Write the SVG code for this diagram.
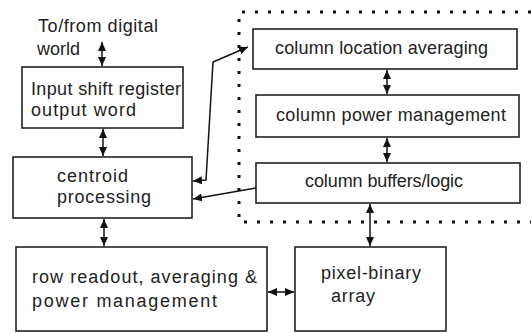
<svg xmlns="http://www.w3.org/2000/svg" width="531" height="333" viewBox="0 0 531 333">
  <style>
    .box { fill: #fff; stroke: #222; stroke-width: 1.6; }
    .lbl { font-family: "Liberation Sans", Arial, sans-serif; font-size: 18px; fill: #222; }
    .wire { fill: none; stroke: #111; stroke-width: 1.5; }
    .dual { marker-start: url(#head); marker-end: url(#head); }
    .single { marker-end: url(#head); }
    .zone { fill: none; stroke: #111; stroke-width: 3; stroke-dasharray: 3 10; }
  </style>
  <defs>
    <marker id="head" markerUnits="userSpaceOnUse" markerWidth="9" markerHeight="8" refX="9" refY="4" orient="auto-start-reverse">
      <path d="M0,0 L9,4 L0,8 z" fill="#111"/>
    </marker>
  </defs>

  <rect width="531" height="333" fill="#fff"/>

  <!-- column-circuit region -->
  <path class="zone" d="M531,12 H239 V222 H531"/>

  <g id="digital-world">
    <text class="lbl" x="38" y="32" textLength="120" lengthAdjust="spacing">To/from digital</text>
    <text class="lbl" x="37" y="55">world</text>
  </g>

  <g id="shift-register">
    <rect class="box" x="22" y="67" width="161" height="61"/>
    <text class="lbl" x="31" y="95" textLength="150" lengthAdjust="spacing">Input shift register</text>
    <text class="lbl" x="31" y="116" textLength="105" lengthAdjust="spacing">output word</text>
  </g>

  <g id="centroid">
    <rect class="box" x="13" y="157" width="179" height="61"/>
    <text class="lbl" x="57" y="182" textLength="71" lengthAdjust="spacing">centroid</text>
    <text class="lbl" x="57" y="203" textLength="94" lengthAdjust="spacing">processing</text>
  </g>

  <g id="row-readout">
    <rect class="box" x="16" y="247" width="251" height="84"/>
    <text class="lbl" x="32" y="283" textLength="225" lengthAdjust="spacing">row readout, averaging &amp;</text>
    <text class="lbl" x="32" y="307" textLength="185" lengthAdjust="spacing">power management</text>
  </g>

  <g id="pixel-array">
    <rect class="box" x="295" y="247" width="151" height="84"/>
    <text class="lbl" x="321" y="279" textLength="100" lengthAdjust="spacing">pixel-binary</text>
    <text class="lbl" x="331" y="302" textLength="44" lengthAdjust="spacing">array</text>
  </g>

  <g id="col-location">
    <rect class="box" x="253" y="29" width="264" height="40"/>
    <text class="lbl" x="275" y="54" textLength="213" lengthAdjust="spacing">column location averaging</text>
  </g>

  <g id="col-power">
    <rect class="box" x="256" y="95" width="263" height="42"/>
    <text class="lbl" x="276" y="121" textLength="230" lengthAdjust="spacing">column power management</text>
  </g>

  <g id="col-buffers">
    <rect class="box" x="256" y="163" width="264" height="40"/>
    <text class="lbl" x="305" y="187" textLength="158" lengthAdjust="spacing">column buffers/logic</text>
  </g>

  <g id="connectors">
    <line class="wire dual" x1="102" y1="42" x2="102" y2="66"/>
    <line class="wire dual" x1="103" y1="129" x2="103" y2="156"/>
    <line class="wire dual" x1="104" y1="219" x2="104" y2="246"/>
    <line class="wire dual" x1="387" y1="70" x2="387" y2="94"/>
    <line class="wire dual" x1="387" y1="138" x2="387" y2="162"/>
    <line class="wire dual" x1="370" y1="204" x2="370" y2="246"/>
    <line class="wire dual" x1="268" y1="292" x2="294" y2="292"/>
    <polyline class="wire dual" points="193,181 206,180 213,62 248,47"/>
    <line class="wire single" x1="256" y1="188" x2="193" y2="199"/>
  </g>
</svg>
